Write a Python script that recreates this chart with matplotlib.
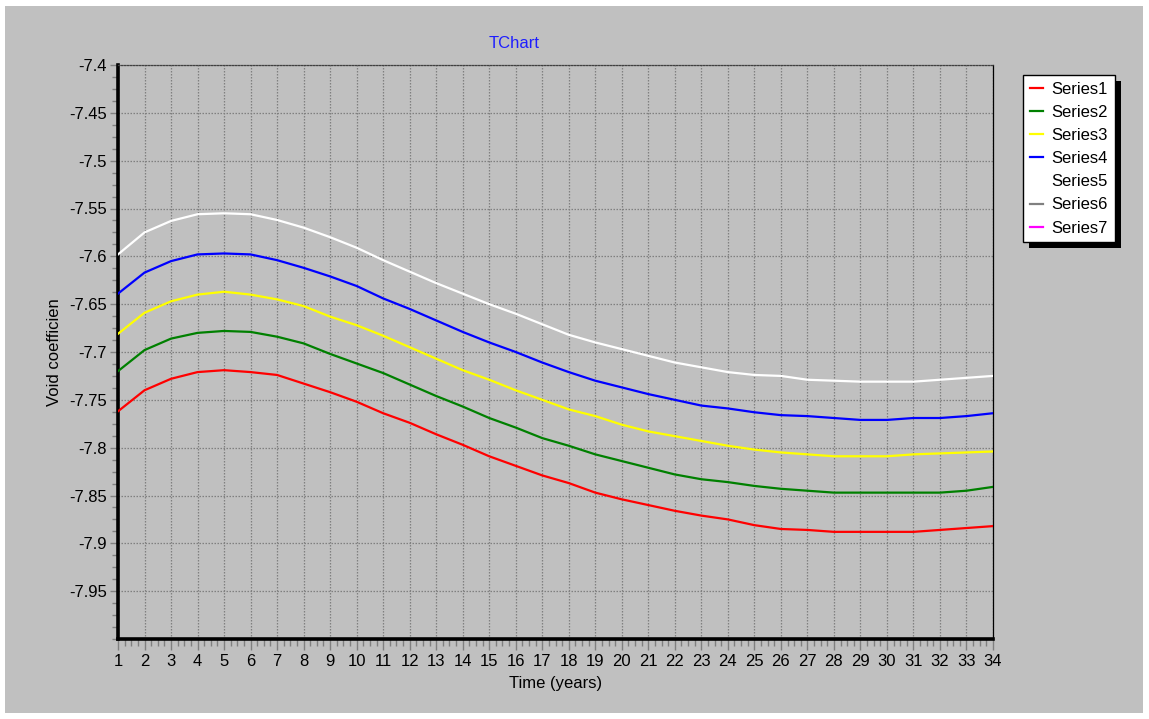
import matplotlib
matplotlib.use("Agg")
import matplotlib.pyplot as plt
from matplotlib.patches import Rectangle
from matplotlib.ticker import FixedLocator, MultipleLocator, FuncFormatter

plt.rcParams['font.family'] = ['Liberation Sans', 'DejaVu Sans']

years = list(range(1, 35))

series1 = [-7.762, -7.740, -7.728, -7.721, -7.719, -7.721, -7.724, -7.733, -7.742, -7.752,
           -7.764, -7.774, -7.786, -7.797, -7.809, -7.819, -7.829, -7.837, -7.847, -7.854,
           -7.860, -7.866, -7.871, -7.875, -7.881, -7.885, -7.886, -7.888, -7.888, -7.888,
           -7.888, -7.886, -7.884, -7.882]
series2 = [-7.720, -7.698, -7.686, -7.680, -7.678, -7.679, -7.684, -7.691, -7.702, -7.712,
           -7.722, -7.734, -7.746, -7.757, -7.769, -7.779, -7.790, -7.798, -7.807, -7.814,
           -7.821, -7.828, -7.833, -7.836, -7.840, -7.843, -7.845, -7.847, -7.847, -7.847,
           -7.847, -7.847, -7.845, -7.841]
series3 = [-7.681, -7.659, -7.647, -7.640, -7.637, -7.640, -7.645, -7.652, -7.663, -7.672,
           -7.683, -7.695, -7.707, -7.719, -7.729, -7.740, -7.750, -7.760, -7.767, -7.776,
           -7.783, -7.788, -7.793, -7.798, -7.802, -7.805, -7.807, -7.809, -7.809, -7.809,
           -7.807, -7.806, -7.805, -7.804]
series4 = [-7.639, -7.617, -7.605, -7.598, -7.597, -7.598, -7.604, -7.612, -7.621, -7.631,
           -7.644, -7.655, -7.667, -7.679, -7.690, -7.700, -7.711, -7.721, -7.730, -7.737,
           -7.744, -7.750, -7.756, -7.759, -7.763, -7.766, -7.767, -7.769, -7.771, -7.771,
           -7.769, -7.769, -7.767, -7.764]
series5 = [-7.598, -7.575, -7.563, -7.556, -7.555, -7.556, -7.562, -7.570, -7.580, -7.591,
           -7.604, -7.616, -7.628, -7.639, -7.650, -7.660, -7.671, -7.682, -7.690, -7.697,
           -7.704, -7.711, -7.716, -7.721, -7.724, -7.725, -7.729, -7.730, -7.731, -7.731,
           -7.731, -7.729, -7.727, -7.725]
series6 = []
series7 = []

series_names = ["Series1", "Series2", "Series3", "Series4", "Series5", "Series6", "Series7"]
series_values = [series1, series2, series3, series4, series5, series6, series7]
series_colors = ["#FF0000", "#008000", "#FFFF00", "#0000FF", "#FFFFFF", "#808080", "#FF00FF"]

y_ticks = [-7.95, -7.9, -7.85, -7.8, -7.75, -7.7, -7.65, -7.6, -7.55, -7.5, -7.45, -7.4]

FS = 12
W, H = 1149, 719
fig = plt.figure(figsize=(W / 100, H / 100), dpi=100, facecolor="white")

# silver chart panel
fig.patches.append(Rectangle((5 / W, 6 / H), (1143 - 5) / W, (713 - 6) / H,
                             transform=fig.transFigure, facecolor="#C0C0C0",
                             edgecolor="none", zorder=-5))

left, right, top, bottom = 118, 993, 65, 639
ax = fig.add_axes([left / W, 1 - bottom / H, (right - left) / W, (bottom - top) / H])
ax.set_facecolor("#C0C0C0")

for name, vals, col in zip(series_names, series_values, series_colors):
    ax.plot(years[:len(vals)], vals, color=col, lw=1.6, label=name, zorder=3,
            solid_joinstyle="round")

ax.set_xlim(1, 34)
ax.set_ylim(-8.0, -7.4)

ax.xaxis.set_major_locator(MultipleLocator(1))
ax.xaxis.set_minor_locator(MultipleLocator(0.25))
ax.yaxis.set_major_locator(FixedLocator(y_ticks))
ax.yaxis.set_minor_locator(MultipleLocator(0.0125))
ax.yaxis.set_major_formatter(FuncFormatter(lambda v, p: "%g" % round(v, 4)))

ax.grid(True, which="major", color="#808080", linestyle=(0, (1.2, 1.2)), lw=0.9)
ax.set_axisbelow(True)

ax.tick_params(axis="both", which="major", colors="#808080", labelcolor="black",
               labelsize=FS, direction="out", width=1)
ax.tick_params(axis="y", which="major", length=6, pad=2)
ax.tick_params(axis="x", which="major", length=8, pad=3)
ax.tick_params(axis="y", which="minor", length=4, colors="#808080", width=1)
ax.tick_params(axis="x", which="minor", length=5, colors="#808080", width=1)

ax.spines["left"].set_linewidth(2.6)
ax.spines["bottom"].set_linewidth(2.6)
ax.spines["left"].set_color("black")
ax.spines["bottom"].set_color("black")
ax.spines["right"].set_linewidth(0.9)
ax.spines["right"].set_color("black")
ax.spines["top"].set_color("#404040")
ax.spines["top"].set_linestyle((0, (1.2, 1.2)))
ax.spines["top"].set_linewidth(0.9)

ax.set_xlabel("Time (years)", fontsize=FS, labelpad=5)
ax.set_ylabel("Void coefficien", fontsize=FS, labelpad=5)
fig.text(514 / W, 1 - 43 / H, "TChart", color="#1E1EFF", fontsize=FS,
         ha="center", va="center")

leg = fig.legend(loc="upper left", bbox_to_anchor=(1023 / W, 1 - 75 / H),
                 bbox_transform=fig.transFigure, fancybox=False, framealpha=1,
                 edgecolor="black", facecolor="white", fontsize=FS,
                 handlelength=0.8, handletextpad=0.5, labelspacing=0.49,
                 borderpad=0.4, borderaxespad=0)
leg.get_frame().set_linewidth(1.0)
leg.set_zorder(10)

fig.canvas.draw()
bb = leg.get_window_extent()
fig.patches.append(Rectangle(((bb.x0 + 6) / W, (bb.y0 - 6) / H), bb.width / W, bb.height / H,
                             transform=fig.transFigure, facecolor="black",
                             edgecolor="none", zorder=9))

fig.savefig("out.png", dpi=100, facecolor="white")
